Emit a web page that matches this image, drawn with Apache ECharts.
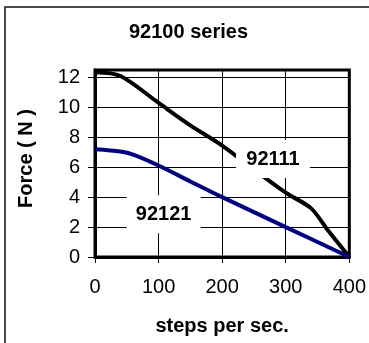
<!DOCTYPE html>
<html>
<head>
<meta charset="utf-8">
<script src="https://cdn.jsdelivr.net/npm/echarts@6/dist/echarts.min.js"></script>
<style>html,body{margin:0;padding:0;background:#fff}#c{width:369px;height:343px}</style>
</head>
<body>
<div id="c"></div>
<script>
// ---- data ----
var title = '92100 series';
var xName = 'steps per sec.';
var yName = 'Force ( N )';
var xTicks = [0, 100, 200, 300, 400];
var yTicks = [0, 2, 4, 6, 8, 10, 12];

var name92111 = '92111';
var steps92111 = [0, 40, 100, 150, 200, 250, 300, 340, 366, 400];
var force92111 = [12.35, 12.1, 10.3, 8.8, 7.45, 5.85, 4.3, 3.25, 1.8, 0];

var name92121 = '92121';
var steps92121 = [0, 40, 60, 100, 150, 200, 300, 400];
var force92121 = [7.2, 7.05, 6.85, 6.12, 5.05, 4.0, 2.0, 0];

function zip(a, b) { return a.map(function (v, i) { return [v, b[i]]; }); }

var FF = "'Liberation Sans', Arial, sans-serif";
var chart = echarts.init(document.getElementById('c'), null, {renderer: 'canvas'});

function tagLabel(text, coord) {
  return {
    symbol: 'rect', symbolSize: [74, 38], silent: true,
    itemStyle: {color: '#fff'},
    label: {show: true, position: 'inside', formatter: text, color: '#000',
            fontFamily: FF, fontWeight: 'bold', fontSize: 20},
    data: [{coord: coord}]
  };
}

chart.setOption({
  animation: false,
  backgroundColor: '#fff',
  title: {
    text: title, left: 129, top: 22, padding: 0,
    textStyle: {fontFamily: FF, fontWeight: 'bold', fontSize: 20, color: '#000'}
  },
  graphic: [{
    type: 'rect', z: -1, silent: true,
    shape: {x: 5, y: 7, width: 420, height: 420},
    style: {fill: 'none', stroke: '#111', lineWidth: 1.5}
  }],
  grid: {left: 95, right: 17, top: 70, bottom: 86, show: true,
         borderColor: '#000', borderWidth: 3, backgroundColor: 'transparent'},
  xAxis: {
    type: 'value', min: xTicks[0], max: xTicks[xTicks.length - 1], interval: 100,
    name: xName, nameLocation: 'middle', nameGap: 59,
    nameTextStyle: {fontFamily: FF, fontWeight: 'bold', fontSize: 20, color: '#000'},
    axisLine: {show: true, lineStyle: {color: '#000', width: 3}},
    axisTick: {show: true, length: 6, lineStyle: {color: '#000', width: 1}},
    axisLabel: {margin: 20, fontFamily: FF, fontSize: 20, color: '#000'},
    splitLine: {show: true, lineStyle: {color: '#000', width: 1}}
  },
  yAxis: {
    type: 'value', min: yTicks[0], max: 12.5, interval: 2,
    name: yName, nameLocation: 'middle', nameGap: 59, nameRotate: 90,
    nameTextStyle: {fontFamily: FF, fontWeight: 'bold', fontSize: 20, color: '#000',
                    padding: [0, 0, 0, 10]},
    axisLine: {show: true, lineStyle: {color: '#000', width: 3}},
    axisTick: {show: true, length: 7, lineStyle: {color: '#000', width: 1}},
    axisLabel: {margin: 15, fontFamily: FF, fontSize: 20, color: '#000', showMaxLabel: false},
    splitLine: {show: true, lineStyle: {color: '#000', width: 1}}
  },
  series: [{
    name: name92111, type: 'line', data: zip(steps92111, force92111),
    smooth: 0.3, showSymbol: false, z: 3,
    lineStyle: {color: '#000', width: 4},
    markPoint: tagLabel(name92111, [280, 6.55])
  }, {
    name: name92121, type: 'line', data: zip(steps92121, force92121),
    smooth: 0.3, showSymbol: false, z: 3,
    lineStyle: {color: '#000080', width: 4},
    markPoint: tagLabel(name92121, [108, 2.85])
  }]
});
</script>
</body>
</html>
